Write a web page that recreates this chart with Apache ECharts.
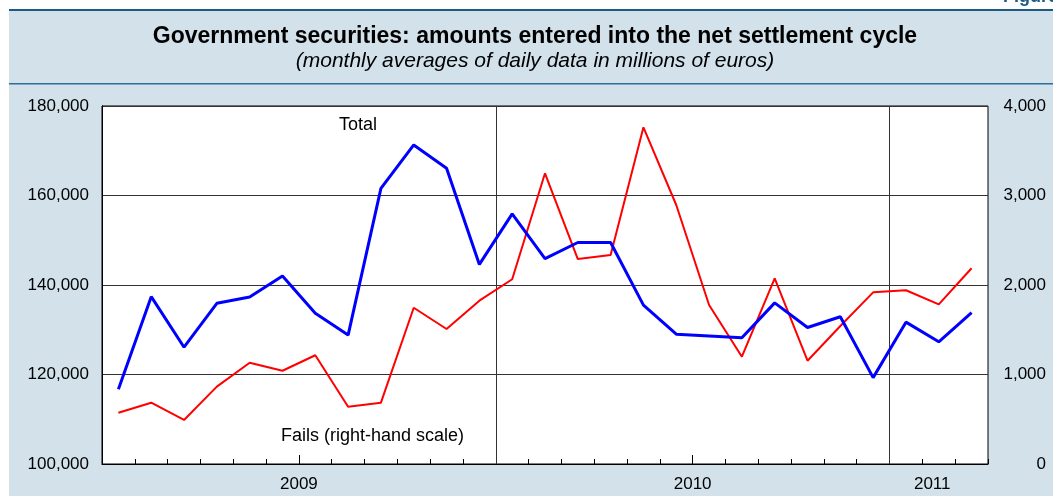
<!DOCTYPE html>
<html>
<head>
<meta charset="utf-8">
<script src="https://cdn.jsdelivr.net/npm/echarts@6/dist/echarts.min.js"></script>
<style>
  html, body { margin: 0; padding: 0; }
  #chart { width: 1053px; height: 496px; }
</style>
</head>
<body>
<div id="chart"></div>
<script>
// months Jan 2009 .. Mar 2011, one value per month
const months = [
  '2009-01', '2009-02', '2009-03', '2009-04', '2009-05', '2009-06',
  '2009-07', '2009-08', '2009-09', '2009-10', '2009-11', '2009-12',
  '2010-01', '2010-02', '2010-03', '2010-04', '2010-05', '2010-06',
  '2010-07', '2010-08', '2010-09', '2010-10', '2010-11', '2010-12',
  '2011-01', '2011-02', '2011-03',
];
// Total (left-hand scale)
const totalValues = [
  116700, 137400, 126100, 135900, 137300, 142000,
  133700, 128800, 161600, 171300, 166100, 144600,
  155900, 145900, 149500, 149500, 135500, 129000,
  128600, 128200, 136000, 130500, 132900, 119300,
  131700, 127300, 133800,
];
// Fails (right-hand scale)
const failsValues = [
  573, 685, 492, 864, 1132, 1042,
  1215, 640, 685, 1746, 1508, 1825,
  2064, 3248, 2290, 2335, 3762, 2894,
  1776, 1199, 2075, 1154, 1542, 1918,
  1941, 1784, 2187,
];
// year labels: position on the month axis and text
const yearLabelPos = [6, 18, 25.3];
const yearLabels = ['2009', '2010', '2011'];
const yearBreaks = [12, 24];
const midYearTicks = [6, 18];

const panel = '#d2e1ea';
const font = 'Liberation Sans, Arial, Helvetica, sans-serif';

const toPoints = (vals) => vals.map((v, i) => [i + 0.5, v]);

const myChart = echarts.init(document.getElementById('chart'));
myChart.setOption({
  backgroundColor: panel,
  animation: false,
  textStyle: { fontFamily: font },
  title: {
    text: 'Government securities: amounts entered into the net settlement cycle',
    subtext: '(monthly averages of daily data in millions of euros)',
    left: 530,
    top: 20,
    textAlign: 'center',
    itemGap: 3,
    textStyle: { fontSize: 23, fontWeight: 'bold', color: '#000', fontFamily: font },
    subtextStyle: { fontSize: 21, fontStyle: 'italic', color: '#000', fontFamily: font },
  },
  grid: {
    left: 102,
    right: 65,
    top: 106,
    bottom: 32,
    show: true,
    backgroundColor: '#fff',
    borderColor: '#000',
    borderWidth: 1,
  },
  xAxis: [
    {
      type: 'value',
      min: 0,
      max: months.length,
      interval: 1,
      position: 'bottom',
      axisLine: { show: true, onZero: false, lineStyle: { color: '#000', width: 1 } },
      axisTick: { show: true, inside: true, length: 5, lineStyle: { color: '#000' } },
      axisLabel: { show: false },
      splitLine: { show: false },
    },
    {
      type: 'value',
      min: 0,
      max: months.length,
      position: 'bottom',
      axisLine: { show: false, onZero: false },
      axisTick: {
        show: true,
        inside: true,
        length: 9,
        customValues: midYearTicks,
        lineStyle: { color: '#000' },
      },
      axisLabel: {
        show: true,
        customValues: yearLabelPos,
        margin: 12,
        fontSize: 17,
        color: '#000',
        formatter: (v) => yearLabels[yearLabelPos.indexOf(v)] || '',
      },
      splitLine: { show: false },
    },
  ],
  yAxis: [
    {
      type: 'value',
      min: 100000,
      max: 180000,
      interval: 20000,
      axisLine: { show: true, lineStyle: { color: '#000' } },
      axisTick: { show: false },
      axisLabel: {
        margin: 13,
        fontSize: 17,
        color: '#000',
        formatter: (v) => v.toLocaleString('en-US'),
      },
      splitLine: { show: true, lineStyle: { color: '#333', width: 1 } },
    },
    {
      type: 'value',
      min: 0,
      max: 4000,
      interval: 1000,
      position: 'right',
      axisLine: { show: true, lineStyle: { color: '#000' } },
      axisTick: { show: false },
      axisLabel: {
        margin: 58,
        align: 'right',
        fontSize: 17,
        color: '#000',
        formatter: (v) => v.toLocaleString('en-US'),
      },
      splitLine: { show: false },
    },
  ],
  series: [
    {
      name: 'Fails',
      type: 'line',
      xAxisIndex: 0,
      yAxisIndex: 1,
      data: toPoints(failsValues),
      symbol: 'none',
      lineStyle: { color: '#ff0000', width: 2 },
      z: 3,
      markLine: {
        silent: true,
        symbol: 'none',
        label: { show: false },
        lineStyle: { color: '#333', width: 1, type: 'solid' },
        data: yearBreaks.map((x) => ({ xAxis: x })),
        z: 1,
      },
    },
    {
      name: 'Total',
      type: 'line',
      xAxisIndex: 0,
      yAxisIndex: 0,
      data: toPoints(totalValues),
      symbol: 'none',
      lineStyle: { color: '#0000ff', width: 3 },
      z: 4,
    },
  ],
  graphic: [
    // white margins around the panel
    { type: 'rect', left: 0, top: 0, shape: { width: 1053, height: 9 }, style: { fill: '#fff' }, silent: true },
    { type: 'rect', left: 0, top: 0, shape: { width: 9, height: 496 }, style: { fill: '#fff' }, silent: true },
    { type: 'rect', left: 9, top: 9, shape: { width: 1044, height: 2 }, style: { fill: '#1b5a84' }, silent: true },
    { type: 'rect', left: 9, top: 83, shape: { width: 1044, height: 1.5 }, style: { fill: '#2c6f99' }, silent: true },
    {
      type: 'text', left: 1003, top: -12, silent: true,
      style: { text: 'Figure 2.5', fill: '#1b5a84', font: 'bold 18px ' + font },
    },
    {
      type: 'text', left: 339, top: 116, silent: true,
      style: { text: 'Total', fill: '#000', font: '18px ' + font },
    },
    {
      type: 'text', left: 281, top: 427, silent: true,
      style: { text: 'Fails (right-hand scale)', fill: '#000', font: '18px ' + font },
    },
  ],
});
</script>
</body>
</html>
